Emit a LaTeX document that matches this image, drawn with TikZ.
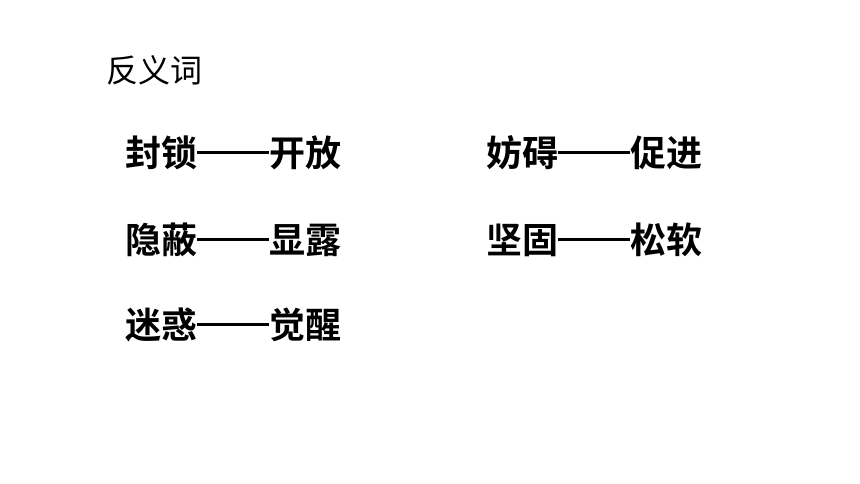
\documentclass[tikz,border=0pt]{standalone}
\usepackage{fontspec}
\newfontfamily\cjk{Noto Sans CJK SC}
\newfontfamily\cjkb{Noto Sans CJK SC Bold}
\newcommand{\longdash}{\rule[0.35em]{2em}{0.09em}}
\begin{document}
\begin{tikzpicture}[x=1pt,y=-1pt,
  title/.style={anchor=west,inner sep=0pt,font=\cjk\fontsize{32}{36}\selectfont},
  pair/.style={anchor=west,inner sep=0pt,font=\cjkb\fontsize{36}{40}\selectfont}]
\useasboundingbox[fill=white] (0,0) rectangle (860,484);
\node[title] (t) at (106,70) {反义词};
\node[pair] (p1) at (125,153) {封锁\longdash 开放};
\node[pair] (p2) at (486,153) {妨碍\longdash 促进};
\node[pair] (p3) at (125,240) {隐蔽\longdash 显露};
\node[pair] (p4) at (486,240) {坚固\longdash 松软};
\node[pair] (p5) at (125,325) {迷惑\longdash 觉醒};
\end{tikzpicture}
\end{document}
